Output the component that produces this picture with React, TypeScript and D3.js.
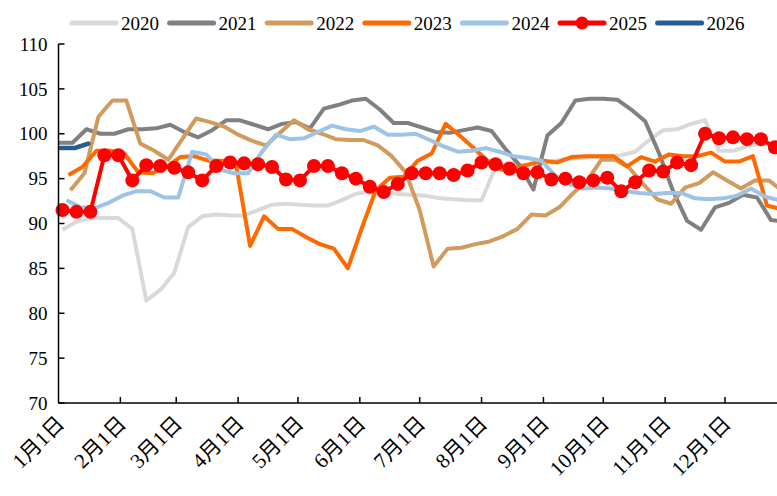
import React from 'react';
import * as d3 from 'd3';

// weekly (Friday) series, one value per week starting at the first Friday of the year
const years = ['2020', '2021', '2022', '2023', '2024', '2025', '2026'];
const colors = ['#d9d9d9', '#808080', '#d09b5c', '#ff6a00', '#9dc3e6', '#ff0000', '#255e91'];
const firstFriday = [2, 0, 6, 5, 4, 2, 1]; // day of year of the first Friday

const monthStarts = [0, 31, 59, 90, 120, 151, 181, 212, 243, 273, 304, 334];
const monthLabels = ['1月1日', '2月1日', '3月1日', '4月1日', '5月1日', '6月1日',
  '7月1日', '8月1日', '9月1日', '10月1日', '11月1日', '12月1日'];
const yTicks = [70, 75, 80, 85, 90, 95, 100, 105, 110];

const v2020 = [89.3, 90.2, 90.6, 90.6, 90.6, 89.4, 81.4, 82.6, 84.5, 89.6,
  90.8, 91.0, 90.9, 90.9, 91.5, 92.1, 92.2, 92.1, 92.0, 92.0,
  92.6, 93.3, 93.6, 93.5, 93.3, 93.2, 93.1, 92.8, 92.7, 92.6,
  92.6, 96.3, 96.8, 96.5, 96.6, 96.9, 97.2, 97.3, 97.4, 97.5,
  97.6, 98.0, 99.3, 100.4, 100.5, 101.1, 101.5, 98.1, 98.1, 98.6,
  98.9, 98.9];
const v2021 = [99.0, 99.0, 100.5, 100.0, 100.0, 100.5, 100.5, 100.6, 101.0, 100.2,
  99.6, 100.4, 101.5, 101.5, 101.0, 100.5, 101.1, 101.3, 100.6, 102.8,
  103.2, 103.7, 103.9, 102.7, 101.2, 101.2, 100.7, 100.2, 100.1, 100.4,
  100.7, 100.3, 98.3, 96.5, 93.8, 99.8, 101.2, 103.7, 103.9, 103.9,
  103.8, 102.7, 101.4, 97.8, 93.6, 90.3, 89.3, 91.8, 92.3, 93.2,
  92.9, 90.4, 90.2];
const v2022 = [93.7, 95.6, 101.9, 103.7, 103.7, 98.9, 98.1, 97.1, 99.4, 101.7,
  101.3, 100.8, 99.9, 99.2, 98.7, 100.1, 101.5, 100.5, 100.0, 99.4,
  99.3, 99.3, 98.7, 97.5, 95.7, 91.5, 85.2, 87.2, 87.3, 87.7,
  88.0, 88.6, 89.4, 91.0, 90.9, 91.8, 93.4, 94.8, 97.1, 97.1,
  96.2, 94.4, 92.7, 92.2, 94.0, 94.5, 95.7, 94.8, 93.9, 94.8,
  94.8, 93.6];
const v2023 = [95.4, 96.3, 98.1, 98.1, 97.8, 95.7, 95.6, 96.3, 97.4, 97.5,
  97.0, 97.0, 96.5, 87.5, 90.8, 89.4, 89.4, 88.5, 87.7, 87.2,
  85.0, 89.5, 93.7, 95.1, 95.2, 97.0, 97.8, 101.1, 99.8, 98.4,
  97.0, 96.0, 96.2, 96.6, 97.0, 96.8, 97.4, 97.5, 97.5, 97.5,
  96.4, 97.4, 96.9, 97.7, 97.5, 97.5, 97.9, 96.9, 96.9, 97.5,
  92.0, 91.6];
const v2024 = [92.6, 91.8, 91.7, 92.3, 93.1, 93.6, 93.6, 92.9, 92.9, 98.0,
  97.7, 96.0, 95.6, 95.6, 98.0, 99.9, 99.4, 99.5, 100.2, 100.9,
  100.5, 100.3, 100.8, 99.9, 99.9, 100.0, 99.3, 98.6, 98.0, 98.1,
  98.4, 98.0, 97.5, 97.3, 97.0, 95.3, 94.4, 93.9, 94.0, 93.9,
  93.6, 93.4, 93.3, 93.4, 93.4, 92.8, 92.7, 92.8, 93.1, 93.9,
  93.0, 92.6];
const v2025 = [91.5, 91.3, 91.3, 97.6, 97.6, 94.8, 96.5, 96.4, 96.2, 95.7,
  94.8, 96.4, 96.8, 96.7, 96.6, 96.3, 94.9, 94.8, 96.4, 96.4,
  95.6, 95.0, 94.1, 93.5, 94.4, 95.6, 95.6, 95.6, 95.4, 95.9,
  96.8, 96.6, 96.1, 95.6, 95.7, 94.9, 95.0, 94.6, 94.8, 95.1,
  93.6, 94.6, 95.9, 95.8, 96.8, 96.5, 100.0, 99.5, 99.6, 99.4,
  99.4, 98.5];
const v2026 = [98.4, 98.4, 98.9];

const seriesValues = [v2020, v2021, v2022, v2023, v2024, v2025, v2026];

const W = 777;
const H = 496;
const font = "'Liberation Serif', 'Times New Roman', 'Noto Sans CJK SC', serif";

export default function App() {
  const x = d3.scaleLinear().domain([0, 334]).range([58.5, 725]);
  const y = d3.scaleLinear().domain([70, 110]).range([403, 44]);
  const x0 = x(0);
  const yBase = y(70);

  const line = d3.line<[number, number]>()
    .x(d => x(d[0]))
    .y(d => y(d[1]));

  const series = years.map((yr, k) => ({
    year: yr,
    color: colors[k],
    pts: seriesValues[k].map((v, i) => [firstFriday[k] + 7 * i, v] as [number, number]),
  }));

  return (
    <svg width={W} height={H} style={{ position: 'absolute', left: 0, top: 0, background: '#fff' }}
      fontFamily={font}>
      {/* legend */}
      {years.map((yr, k) => {
        const lx = 72 + k * 97.6;
        return (
          <g key={yr}>
            <line x1={lx} x2={lx + 44} y1={23} y2={23} stroke={colors[k]} strokeWidth={5} strokeLinecap="round" />
            {yr === '2025' && <circle cx={lx + 22} cy={23} r={6.5} fill={colors[k]} />}
            <text x={lx + 49} y={23} dy="0.35em" fontSize={19}>{yr}</text>
          </g>
        );
      })}

      {/* series */}
      {series.map(s => (
        <path key={s.year} d={line(s.pts) || ''} fill="none" stroke={s.color}
          strokeWidth={4} strokeLinejoin="round" />
      ))}
      {series.filter(s => s.year === '2025').map(s => (
        <g key="markers">
          {s.pts.map((p, i) => (
            <circle key={i} cx={x(p[0])} cy={y(p[1])} r={7} fill={s.color} />
          ))}
        </g>
      ))}
      {/* 2026 drawn above the rest */}
      <path d={line(series[6].pts) || ''} fill="none" stroke={colors[6]} strokeWidth={4.5} strokeLinecap="round" strokeLinejoin="round" />

      {/* y axis */}
      <line x1={x0} x2={x0} y1={y(110)} y2={yBase} stroke="#000" strokeWidth={1.5} />
      {yTicks.map(t => (
        <g key={t}>
          <line x1={x0} x2={x0 + 6} y1={y(t)} y2={y(t)} stroke="#000" strokeWidth={1.5} />
          <text x={x0 - 11} y={y(t)} dy="0.35em" textAnchor="end" fontSize={19}>{t}</text>
        </g>
      ))}

      {/* x axis */}
      <line x1={x0} x2={W} y1={yBase} y2={yBase} stroke="#000" strokeWidth={1.5} />
      {monthStarts.map((d, i) => (
        <g key={d}>
          {i > 0 && <line x1={x(d)} x2={x(d)} y1={yBase} y2={yBase - 6} stroke="#000" strokeWidth={1.5} />}
          <text transform={`translate(${x(d) + 7},${yBase + 22}) rotate(-45)`} textAnchor="end"
            fontSize={21}>{monthLabels[i]}</text>
        </g>
      ))}
    </svg>
  );
}
